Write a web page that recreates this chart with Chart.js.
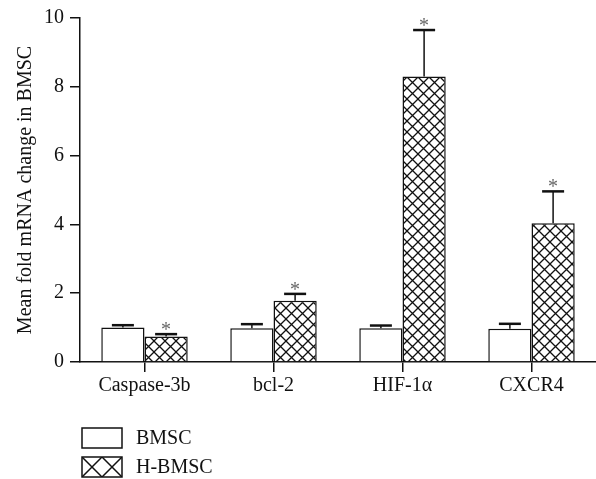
<!DOCTYPE html>
<html>
<head>
<meta charset="utf-8">
<script src="https://cdn.jsdelivr.net/npm/chart.js@4.4.1/dist/chart.umd.min.js"></script>
<style>
    html, body { margin: 0; padding: 0; background: #fff; }
    #wrap { width: 596px; height: 479px; position: relative; }
</style>
</head>
<body>
<div id="wrap"><canvas id="mrnaChart"></canvas></div>
<script>
// Данные
const categories = ['Caspase-3b', 'bcl-2', 'HIF-1α', 'CXCR4'];
const bmscMean = [1.0, 0.98, 0.98, 0.97];
const bmscErr = [0.07, 0.12, 0.08, 0.14];
const hbmscMean = [0.74, 1.78, 8.3, 4.03];
const hbmscErr = [0.07, 0.2, 1.35, 0.93];
const significant = [true, true, true, true];
const yTicks = [0, 2, 4, 6, 8, 10];

const serif = "'Liberation Serif', 'DejaVu Serif', serif";
const ink = '#111';

function makeHatch(size, width) {
    const c = document.createElement('canvas');
    c.width = size;
    c.height = size;
    const g = c.getContext('2d');
    g.fillStyle = '#fff';
    g.fillRect(0, 0, size, size);
    g.strokeStyle = ink;
    g.lineWidth = width;
    g.beginPath();
    g.moveTo(0, 0); g.lineTo(size, size);
    g.moveTo(size, 0); g.lineTo(0, size);
    g.stroke();
    return g.createPattern(c, 'repeat');
}

const hatch = makeHatch(11, 1.3);
const legendHatch = makeHatch(20, 1.5);

// планки погрешностей и звёздочки
const errorBars = {
    id: 'errorBars',
    afterDatasetsDraw(chart) {
        const ctx = chart.ctx;
        const y = chart.scales.y;
        [bmscErr, hbmscErr].forEach((errs, di) => {
            const meta = chart.getDatasetMeta(di);
            const means = chart.data.datasets[di].data;
            meta.data.forEach((bar, i) => {
                const top = y.getPixelForValue(means[i]);
                const tip = y.getPixelForValue(means[i] + errs[i]);
                ctx.save();
                ctx.strokeStyle = ink;
                ctx.lineWidth = 1.5;
                ctx.beginPath();
                ctx.moveTo(bar.x, top);
                ctx.lineTo(bar.x, tip);
                ctx.stroke();
                ctx.lineWidth = 2.5;
                ctx.beginPath();
                ctx.moveTo(bar.x - 11, tip);
                ctx.lineTo(bar.x + 11, tip);
                ctx.stroke();
                if (di === 1 && significant[i]) {
                    ctx.fillStyle = '#666';
                    ctx.font = '20px ' + serif;
                    ctx.textAlign = 'center';
                    ctx.textBaseline = 'alphabetic';
                    ctx.fillText('*', bar.x, tip + 2);
                }
                ctx.restore();
            });
        });
    }
};

// легенда столбиком под осью
const boxLegend = {
    id: 'boxLegend',
    afterDraw(chart) {
        const ctx = chart.ctx;
        const area = chart.chartArea;
        const fills = ['#fff', legendHatch];
        chart.data.datasets.forEach((ds, i) => {
            const x = area.left + 2;
            const y = area.bottom + 66 + i * 29;
            ctx.save();
            ctx.translate(x, y);
            ctx.fillStyle = fills[i];
            ctx.fillRect(0, 0, 40, 20);
            ctx.strokeStyle = ink;
            ctx.lineWidth = 1.5;
            ctx.strokeRect(0, 0, 40, 20);
            ctx.fillStyle = ink;
            ctx.font = '20px ' + serif;
            ctx.textBaseline = 'middle';
            ctx.fillText(ds.label, 54, 11);
            ctx.restore();
        });
    }
};

const ctx = document.getElementById('mrnaChart').getContext('2d');

new Chart(ctx, {
    type: 'bar',
    data: {
        labels: categories,
        datasets: [{
            label: 'BMSC',
            data: bmscMean,
            backgroundColor: '#fff',
            borderColor: ink,
            borderWidth: 1.5
        }, {
            label: 'H-BMSC',
            data: hbmscMean,
            backgroundColor: hatch,
            borderColor: ink,
            borderWidth: 1.5
        }]
    },
    options: {
        responsive: true,
        maintainAspectRatio: false,
        animation: false,
        layout: {
            padding: { top: 15, right: 0, bottom: 77, left: 0 }
        },
        datasets: {
            bar: {
                categoryPercentage: 0.67,
                barPercentage: 1
            }
        },
        plugins: {
            legend: { display: false },
            tooltip: { enabled: false }
        },
        scales: {
            x: {
                grid: {
                    offset: false,
                    drawOnChartArea: false,
                    tickLength: 10,
                    color: ink,
                    lineWidth: 1.5
                },
                border: { color: ink, width: 1.5 },
                ticks: {
                    color: ink,
                    padding: 2,
                    font: { family: serif, size: 20 }
                },
                afterFit(scale) {
                    scale.height = 40;
                }
            },
            y: {
                min: 0,
                max: 10,
                afterBuildTicks(scale) {
                    scale.ticks = yTicks.map(v => ({ value: v }));
                },
                grid: {
                    drawOnChartArea: false,
                    tickLength: 10,
                    color: ink,
                    lineWidth: 1.5
                },
                border: { color: ink, width: 1.5 },
                ticks: {
                    color: ink,
                    padding: 6,
                    font: { family: serif, size: 20 }
                },
                title: {
                    display: true,
                    text: 'Mean fold mRNA change in BMSC',
                    color: ink,
                    padding: { top: 14, bottom: 0 },
                    font: { family: serif, size: 20 }
                },
                afterFit(scale) {
                    scale.width = 80;
                }
            }
        }
    },
    plugins: [errorBars, boxLegend]
});
</script>
</body>
</html>
